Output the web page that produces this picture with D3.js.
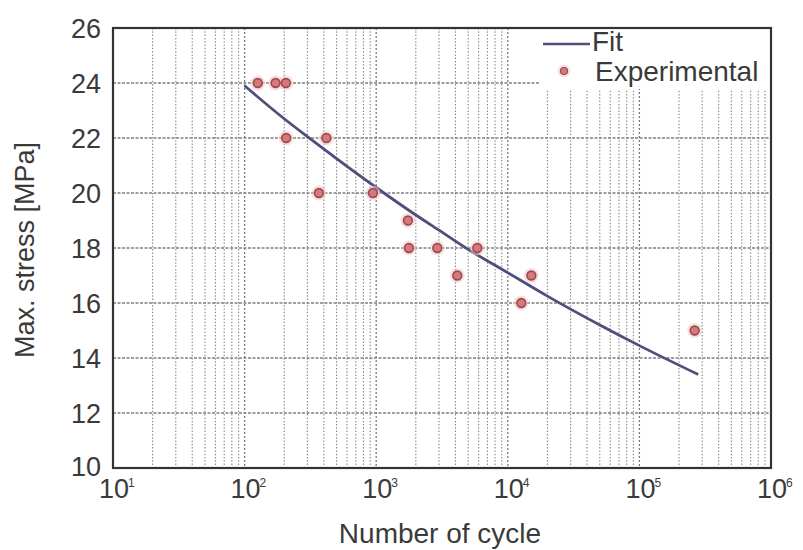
<!DOCTYPE html>
<html>
<head>
<meta charset="utf-8">
<script src="https://cdn.jsdelivr.net/npm/d3@7"></script>
<style>
  html, body { margin: 0; padding: 0; background: #fff; }
  svg { display: block; font-family: "Liberation Sans", Arial, sans-serif; }
</style>
</head>
<body>
<svg id="chart" width="803" height="550"></svg>
<script>
// ---- data ----
const expCycles = [126, 172, 206, 207, 418, 367, 944, 1742, 1773, 2912, 5866, 4133, 15100, 12670, 263000];
const expStress = [24, 24, 24, 22, 22, 20, 20, 19, 18, 18, 18, 17, 17, 16, 15];
const fitCycles = [100, 200, 300, 500, 1000, 2000, 3000, 5000, 10000, 20000, 50000, 100000, 280000];
const fitStress = [23.9, 22.7, 22.05, 21.25, 20.2, 19.2, 18.65, 17.95, 17.1, 16.25, 15.2, 14.45, 13.4];
const xDecades = [1, 2, 3, 4, 5, 6];
const yTicks = [10, 12, 14, 16, 18, 20, 22, 24, 26];
const legendLabels = ["Fit", "Experimental"];
const xTitle = "Number of cycle";
const yTitle = "Max. stress [MPa]";

const L = 113, R = 771, T = 28, B = 468;
const svg = d3.select("#chart");
const x = d3.scaleLog().domain([10, 1e6]).range([L, R]);
const y = d3.scaleLinear().domain([10, 26]).range([B, T]);

const txt = "#3a3a3a";
const g = svg.append("g");

// minor vertical grid
const minor = [];
xDecades.slice(0, -1).forEach(d => { for (let k = 2; k <= 9; k++) minor.push(k * Math.pow(10, d)); });
g.selectAll(".vminor").data(minor).join("line")
  .attr("x1", d => x(d)).attr("x2", d => x(d)).attr("y1", T).attr("y2", B)
  .attr("stroke", "#8a8a8a").attr("stroke-width", 1.1).attr("stroke-dasharray", "1.5,1.8");
// major vertical grid
g.selectAll(".vmajor").data(xDecades.slice(1, -1).map(d => Math.pow(10, d))).join("line")
  .attr("x1", d => x(d)).attr("x2", d => x(d)).attr("y1", T).attr("y2", B)
  .attr("stroke", "#7a7a7a").attr("stroke-width", 1.3).attr("stroke-dasharray", "2,2");
// horizontal grid
g.selectAll(".hgrid").data(yTicks.slice(1, -1)).join("line")
  .attr("x1", L).attr("x2", R).attr("y1", d => y(d)).attr("y2", d => y(d))
  .attr("stroke", "#808080").attr("stroke-width", 1.5).attr("stroke-dasharray", "3,1.5");

// legend background
svg.append("rect").attr("x", 540).attr("y", T + 1).attr("width", R - 541).attr("height", 60).attr("fill", "#fff");

// fit line
const line = d3.line().x((d, i) => x(fitCycles[i])).y(d => y(d)).curve(d3.curveMonotoneX);
svg.append("path").datum(fitStress).attr("d", line)
  .attr("fill", "none").attr("stroke", "#4f4f7c").attr("stroke-width", 2.8);

// experimental points
const pts = svg.append("g");
pts.selectAll(".halo").data(expStress).join("circle")
  .attr("cx", (d, i) => x(expCycles[i])).attr("cy", d => y(d)).attr("r", 7.5)
  .attr("fill", "#f4c6c6").attr("opacity", 0.55);
pts.selectAll(".pt").data(expStress).join("circle")
  .attr("cx", (d, i) => x(expCycles[i])).attr("cy", d => y(d)).attr("r", 4.4)
  .attr("fill", "#d7787c").attr("stroke", "#9a4a50").attr("stroke-width", 1.6);

// axes box
svg.append("rect").attr("x", L).attr("y", T).attr("width", R - L).attr("height", B - T)
  .attr("fill", "none").attr("stroke", "#333").attr("stroke-width", 2.2);

// y tick labels
svg.selectAll(".ytl").data(yTicks).join("text")
  .attr("x", 101).attr("y", d => y(d) + (d === 10 ? -2 : 0)).attr("dy", "0.36em")
  .attr("text-anchor", "end").attr("font-size", 27).attr("fill", txt)
  .text(d => d);

// x tick labels 10^n
const xl = svg.selectAll(".xtl").data(xDecades).join("g");
xl.append("text").attr("x", d => x(Math.pow(10, d)) + 1).attr("y", 498)
  .attr("text-anchor", "middle").attr("font-size", 27).attr("fill", txt).text("10");
xl.append("text").attr("x", d => x(Math.pow(10, d)) + 15).attr("y", 487)
  .attr("font-size", 12).attr("fill", txt).text(d => d);

// axis titles
svg.append("text").attr("x", 440).attr("y", 543).attr("text-anchor", "middle")
  .attr("font-size", 28).attr("fill", txt).text(xTitle);
svg.append("text").attr("transform", "translate(34,250) rotate(-90)").attr("text-anchor", "middle")
  .attr("font-size", 27).attr("fill", txt).text(yTitle);

// legend
svg.append("line").attr("x1", 543).attr("x2", 590).attr("y1", 44).attr("y2", 44)
  .attr("stroke", "#4f4f7c").attr("stroke-width", 2.6);
svg.append("text").attr("x", 592).attr("y", 51).attr("font-size", 28).attr("fill", txt).text(legendLabels[0]);
svg.append("circle").attr("cx", 564).attr("cy", 71).attr("r", 6.5).attr("fill", "#f4c6c6").attr("opacity", 0.55);
svg.append("circle").attr("cx", 564).attr("cy", 71).attr("r", 3.5)
  .attr("fill", "#d7787c").attr("stroke", "#9a4a50").attr("stroke-width", 1.2);
svg.append("text").attr("x", 595).attr("y", 81).attr("font-size", 28).attr("fill", txt).text(legendLabels[1]);
</script>
</body>
</html>
